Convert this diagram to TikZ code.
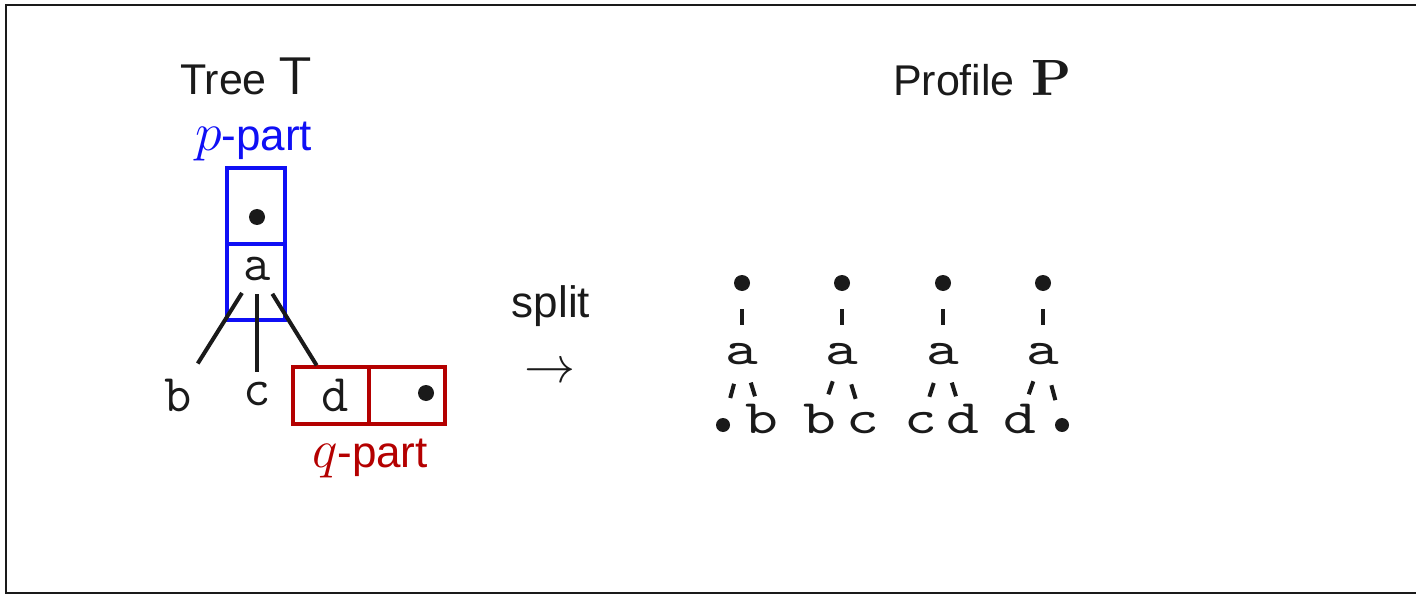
\documentclass[tikz,border=0pt]{standalone}
\usepackage{fix-cm}
\usepackage[no-math]{fontspec}
\setmainfont{Liberation Sans}
\newfontfamily\widett{lmmono10-regular}[Extension=.otf, FakeStretch=1.3]
\newfontfamily\lmbold{lmroman10-bold}[Extension=.otf]
\usetikzlibrary{calc}
\definecolor{ink}{RGB}{26,26,26}
\definecolor{pblue}{RGB}{15,15,245}
\definecolor{qred}{RGB}{180,0,0}
\newcommand{\bigvar}[1]{{\fontsize{54}{60}\selectfont$#1$}}
\tikzset{
  every node/.style={inner sep=0pt, outer sep=0pt, text=ink},
  dotnode/.style={circle, fill=ink, inner sep=0pt, minimum size=16pt},
  smalldot/.style={circle, fill=ink, inner sep=0pt, minimum size=14pt},
  treelet/.style={font=\ttfamily\fontsize{53}{56}\selectfont},
  proflet/.style={font=\widett\fontsize{48}{52}\selectfont},
  label/.style={font=\fontsize{43}{50}\selectfont},
  partlabel/.style={font=\fontsize{44}{50}\selectfont, anchor=base west},
  edge/.style={draw=ink, line width=4pt},
  pbox/.style={draw=pblue, line width=4pt, minimum width=58pt, minimum height=76pt},
  qbox/.style={draw=qred, line width=4pt, minimum width=76pt, minimum height=57pt},
}
\begin{document}
\begin{tikzpicture}[x=1pt,y=-1pt]
\useasboundingbox (0,0) rectangle (1416,596);
\draw[ink, line width=2pt] (6,5) rectangle (1430,593);

% titles
\node[label, anchor=base west] (treetitle) at (180,95) {Tree \textsf{\fontsize{53}{60}\selectfont T}};
\node[label, anchor=base west] (proftitle) at (893,96) {Profile \kern5pt{\lmbold\fontsize{51}{56}\selectfont P}};

% tree T
\node[pbox] (pb1) at (256,206) {};
\node[pbox] (pb2) at (256,282) {};
\node[partlabel, text=pblue] (plab) at (195,151) {\bigvar{p}-part};
\node[qbox] (qb1) at (331,395) {};
\node[qbox] (qb2) at (407,395) {};
\node[partlabel, text=qred] (qlab) at (312,467) {\bigvar{q}-part};

\node[dotnode] (troot) at (257,217) {};
\node[treelet] (ta) at (257,269) {a};
\node[treelet] (tb) at (178,395) {b};
\node[treelet] (tc) at (257,394) {c};
\node[treelet] (td) at (335,395) {d};
\node[dotnode] (tq) at (426,393) {};

\draw[edge] ($(ta)!0.19!(tb)$) -- ($(ta)!0.75!(tb)$);
\draw[edge] ($(ta)!0.20!(tc)$) -- ($(ta)!0.82!(tc)$);
\draw[edge] ($(ta)!0.197!(td)$) -- ($(ta)!0.765!(td)$);

% split arrow
\node[font=\fontsize{44}{50}\selectfont, anchor=base] (split) at (551,317) {split};
\node[font=\fontsize{51}{56}\selectfont] (arr) at (550,373) {$\rightarrow$};

% profile trees
\node[dotnode] (r1) at (742,283) {};
\node[proflet] (a1) at (742,354) {a};
\node[smalldot] (l1) at (723,425) {};
\node[proflet] (c1) at (762,419) {b};

\node[dotnode] (r2) at (842,283) {};
\node[proflet] (a2) at (842,354) {a};
\node[proflet] (l2) at (820,419) {b};
\node[proflet] (c2) at (863,423) {c};

\node[dotnode] (r3) at (943,283) {};
\node[proflet] (a3) at (943,354) {a};
\node[proflet] (l3) at (921,423) {c};
\node[proflet] (c3) at (963,419) {d};

\node[dotnode] (r4) at (1043,283) {};
\node[proflet] (a4) at (1043,354) {a};
\node[proflet] (l4) at (1020,419) {d};
\node[smalldot] (c4) at (1062,425) {};

\foreach \i in {1,2,3,4}{
  \draw[edge] ($(r\i)!0.37!(a\i)$) -- ($(r\i)!0.59!(a\i)$);
  \draw[edge] ($(a\i)!0.42!(l\i)$) -- ($(a\i)!0.62!(l\i)$);
  \draw[edge] ($(a\i)!0.44!(c\i)$) -- ($(a\i)!0.65!(c\i)$);
}
\end{tikzpicture}
\end{document}
